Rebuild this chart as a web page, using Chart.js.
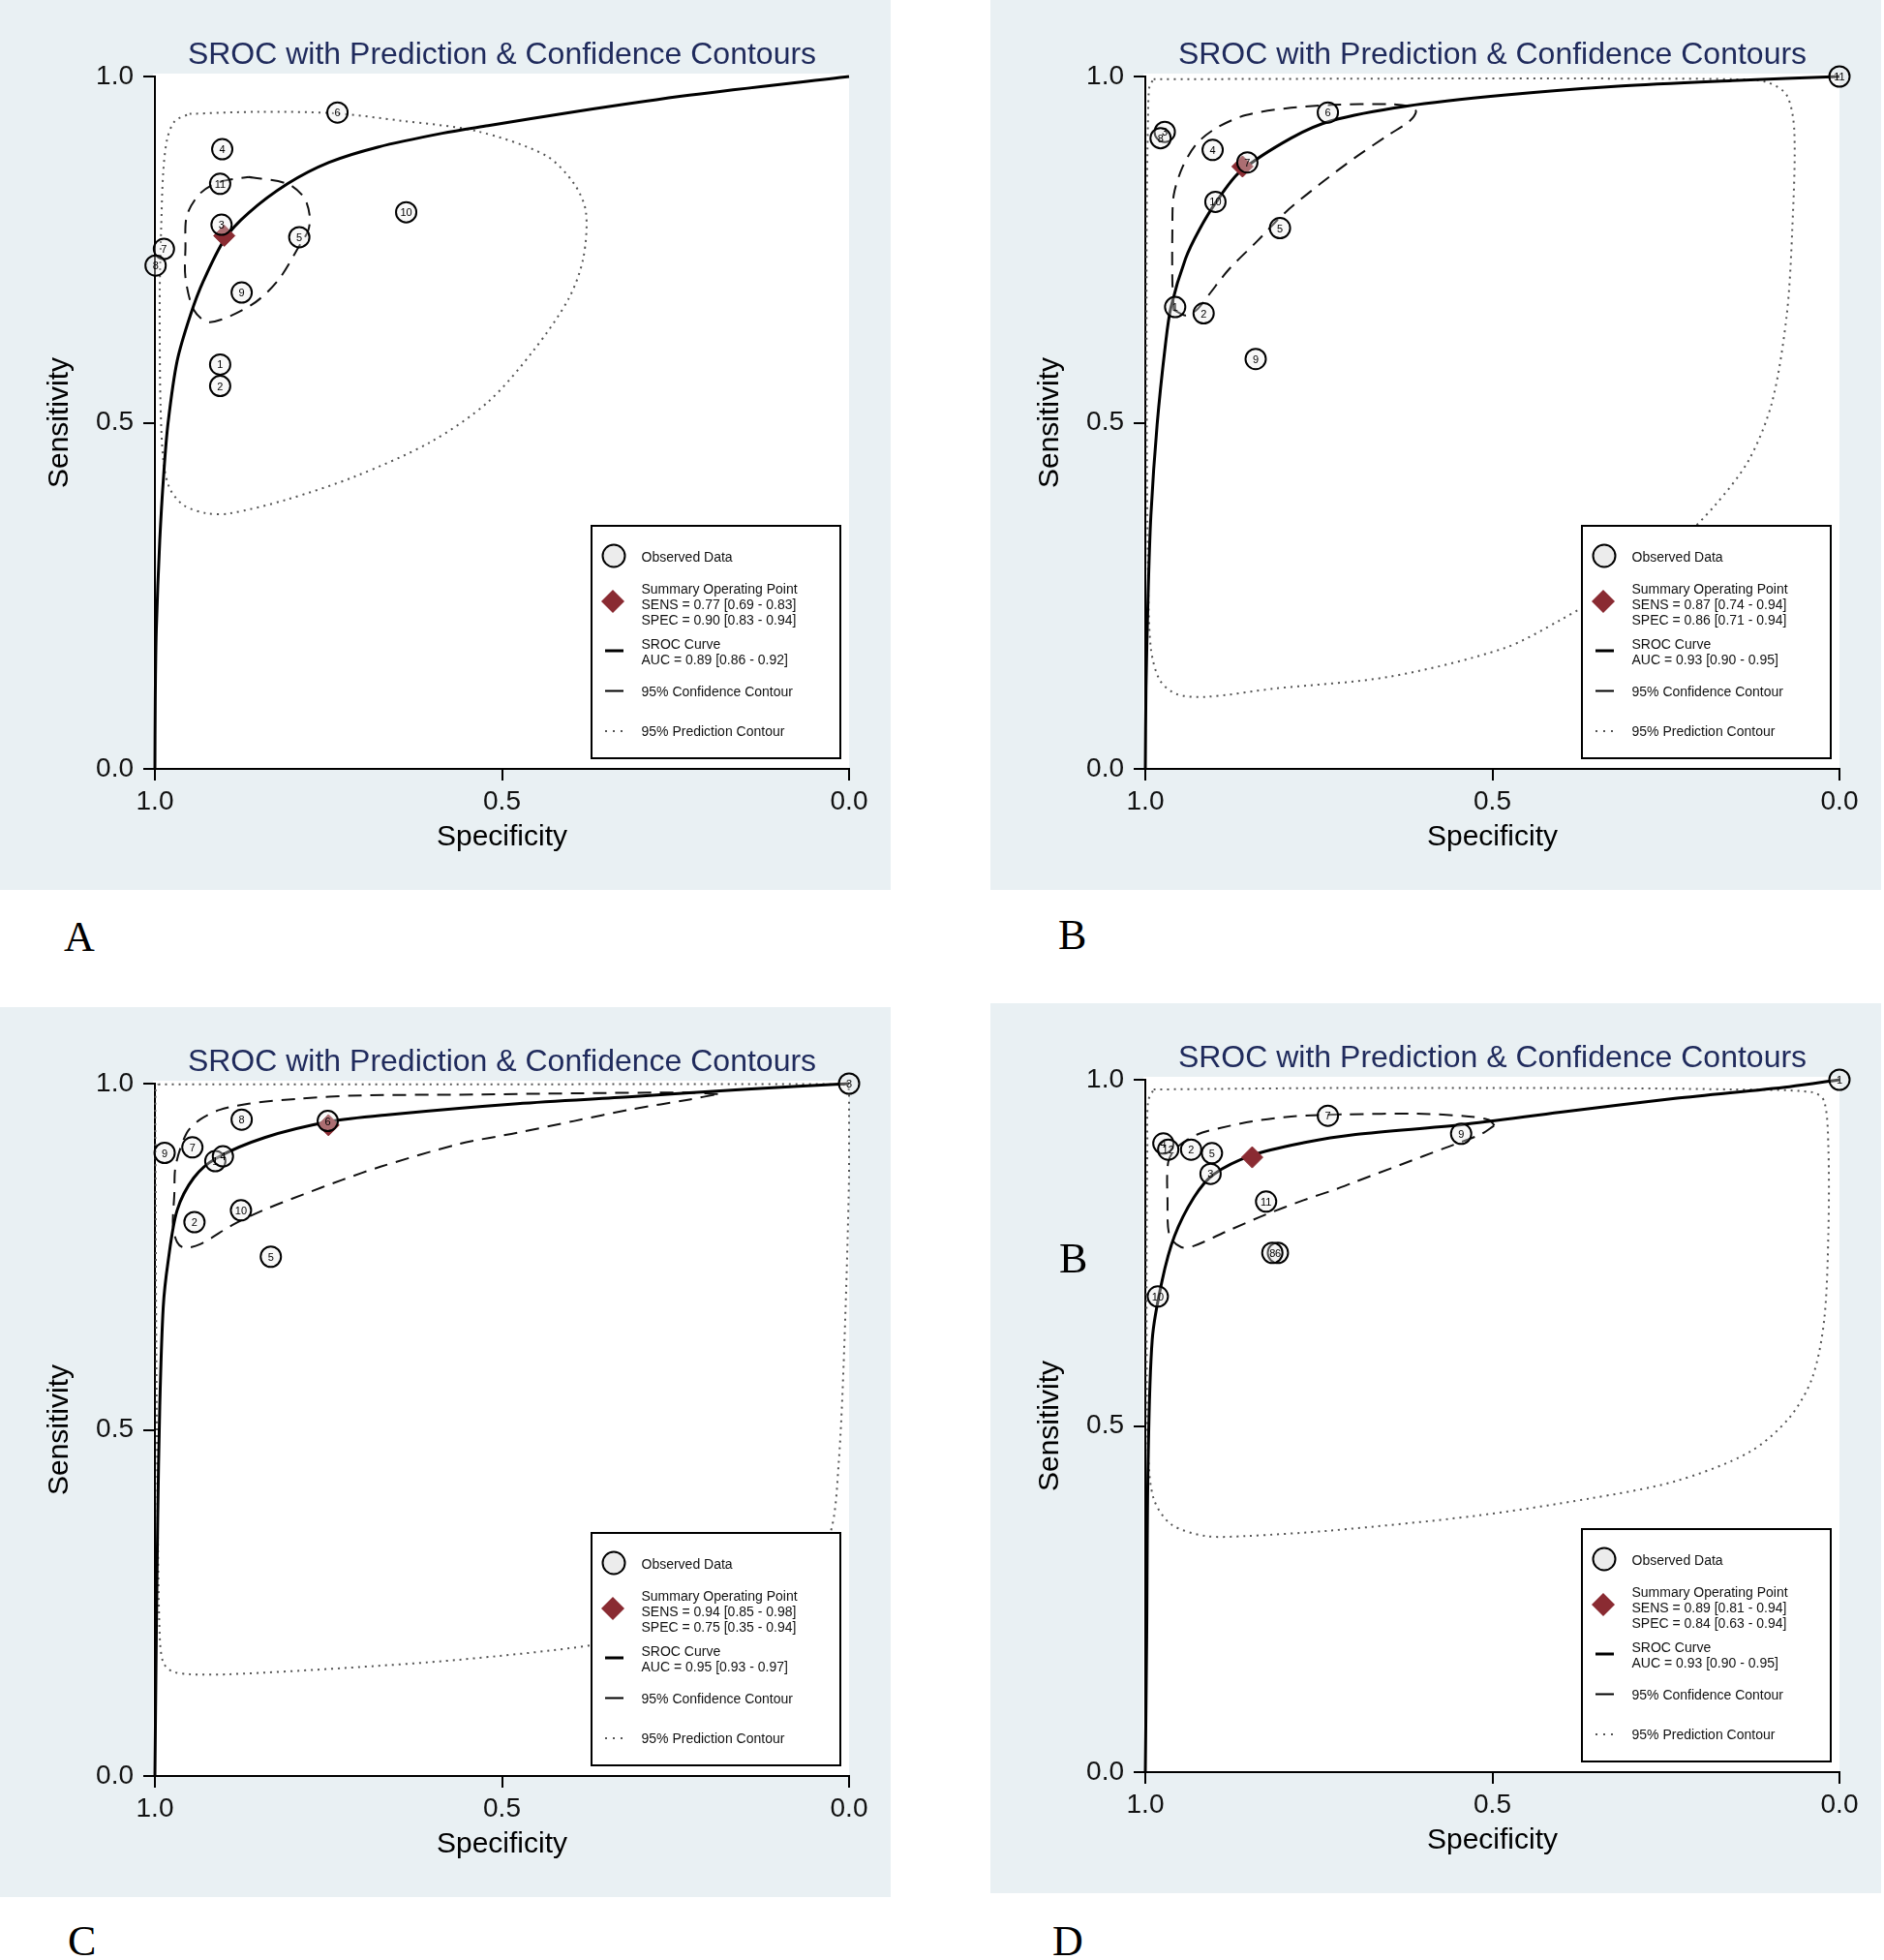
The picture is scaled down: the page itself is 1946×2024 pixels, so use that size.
<!DOCTYPE html>
<html>
<head>
<meta charset="utf-8">
<script src="https://cdn.jsdelivr.net/npm/chart.js@4.4.0/dist/chart.umd.min.js"></script>
<style>
  html, body { margin: 0; padding: 0; background: #fff; }
  body { position: relative; width: 1946px; height: 2024px; overflow: hidden; }
  canvas { position: absolute; }
  .tag { position: absolute; font-family: 'Liberation Serif', 'Times New Roman', serif; font-size: 44px; line-height: 44px; color: #000; }
</style>
</head>
<body>
<canvas id="panelA" width="920" height="919" style="left:0px;top:0px"></canvas>
<canvas id="panelB" width="920" height="919" style="left:1023px;top:0px"></canvas>
<canvas id="panelC" width="920" height="919" style="left:0px;top:1040px"></canvas>
<canvas id="panelD" width="920" height="919" style="left:1023px;top:1036px"></canvas>
<div class="tag" style="left:66px;top:946px">A</div>
<div class="tag" style="left:1093px;top:944px">B</div>
<div class="tag" style="left:70px;top:1983px">C</div>
<div class="tag" style="left:1087px;top:1983px">D</div>
<div class="tag" style="left:1094px;top:1278px">B</div>
<script>
const FONT = "'Liberation Sans', Arial, Helvetica, sans-serif";
const chartTitle = 'SROC with Prediction & Confidence Contours';
const tickValues = [0, 0.5, 1];
const tickLabels = ['0.0', '0.5', '1.0'];
const legendLabels = ['Observed Data', 'Summary Operating Point', 'SROC Curve', '95% Confidence Contour', '95% Prediction Contour'];

// points are [specificity, sensitivity]

// panel A
const obsLabelsA = ['1', '2', '3', '4', '5', '6', '7', '8', '9', '10', '11'];
const obsA = [[0.906, 0.584], [0.906, 0.553], [0.904, 0.786], [0.903, 0.895], [0.792, 0.768], [0.737, 0.948],
  [0.987, 0.751], [0.999, 0.727], [0.875, 0.688], [0.638, 0.804], [0.906, 0.845]];
const summaryA = [0.90, 0.77];
const statsA = ['SENS = 0.77 [0.69 - 0.83]', 'SPEC = 0.90 [0.83 - 0.94]', 'AUC = 0.89 [0.86 - 0.92]'];
const srocA = [[1.0, 0.0], [0.9995, 0.1], [0.998, 0.2], [0.993, 0.33], [0.987, 0.43], [0.981, 0.5], [0.968, 0.589],
  [0.949, 0.655], [0.930, 0.705], [0.899, 0.766], [0.865, 0.803], [0.809, 0.845], [0.749, 0.876], [0.679, 0.898],
  [0.586, 0.918], [0.520, 0.929], [0.396, 0.949], [0.230, 0.973], [0.0, 1.0]];
const confA = [[0.865, 0.855], [0.809, 0.845], [0.785, 0.825], [0.777, 0.799], [0.779, 0.778], [0.791, 0.757],
  [0.823, 0.705], [0.861, 0.670], [0.921, 0.645], [0.944, 0.663], [0.956, 0.71], [0.956, 0.752], [0.954, 0.799],
  [0.935, 0.831], [0.909, 0.847], [0.865, 0.855]];
const predA = [[0.950, 0.946], [0.851, 0.949], [0.743, 0.947], [0.644, 0.936], [0.536, 0.921], [0.437, 0.886],
  [0.396, 0.845], [0.379, 0.804], [0.383, 0.737], [0.404, 0.679], [0.454, 0.605], [0.520, 0.530], [0.603, 0.472],
  [0.710, 0.423], [0.810, 0.389], [0.892, 0.369], [0.925, 0.369], [0.959, 0.381], [0.979, 0.406], [0.988, 0.447],
  [0.992, 0.530], [0.993, 0.613], [0.993, 0.696], [0.991, 0.779], [0.988, 0.862], [0.982, 0.911], [0.971, 0.936],
  [0.950, 0.946]];

// panel B
const obsLabelsB = ['1', '2', '3', '4', '5', '6', '7', '8', '9', '10', '11'];
const obsB = [[0.957, 0.667], [0.916, 0.658], [0.972, 0.920], [0.903, 0.894], [0.806, 0.781], [0.737, 0.948],
  [0.853, 0.876], [0.978, 0.911], [0.841, 0.592], [0.899, 0.819], [0.0, 1.0]];
const summaryB = [0.86, 0.87];
const statsB = ['SENS = 0.87 [0.74 - 0.94]', 'SPEC = 0.86 [0.71 - 0.94]', 'AUC = 0.93 [0.90 - 0.95]'];
const srocB = [[1.0, 0.0], [0.999, 0.116], [0.996, 0.25], [0.992, 0.365], [0.983, 0.497], [0.971, 0.613],
  [0.963, 0.667], [0.942, 0.737], [0.922, 0.779], [0.897, 0.820], [0.864, 0.862], [0.790, 0.911], [0.732, 0.936],
  [0.625, 0.957], [0.484, 0.973], [0.319, 0.986], [0.154, 0.994], [0.0, 1.0]];
const confB = [[0.959, 0.663], [0.961, 0.704], [0.961, 0.779], [0.959, 0.829], [0.946, 0.870], [0.926, 0.903],
  [0.897, 0.926], [0.856, 0.944], [0.798, 0.954], [0.732, 0.959], [0.649, 0.960], [0.616, 0.956], [0.610, 0.949],
  [0.620, 0.935], [0.649, 0.916], [0.699, 0.882], [0.748, 0.845], [0.798, 0.804], [0.839, 0.762], [0.880, 0.721],
  [0.909, 0.684], [0.926, 0.663], [0.942, 0.655], [0.959, 0.663]];
const predB = [[0.988, 0.996], [0.649, 0.997], [0.319, 0.997], [0.154, 0.996], [0.105, 0.992], [0.076, 0.973],
  [0.065, 0.920], [0.068, 0.779], [0.076, 0.655], [0.097, 0.530], [0.130, 0.447], [0.179, 0.381], [0.237, 0.323],
  [0.319, 0.265], [0.402, 0.215], [0.484, 0.174], [0.649, 0.133], [0.814, 0.116], [0.913, 0.104], [0.955, 0.108],
  [0.979, 0.128], [0.992, 0.174], [0.996, 0.282], [0.998, 0.530], [0.998, 0.779], [0.996, 0.944], [0.994, 0.986],
  [0.988, 0.996]];

// panel C
const obsLabelsC = ['1', '2', '3', '4', '5', '6', '7', '8', '9', '10'];
const obsC = [[0.913, 0.888], [0.943, 0.800], [0.0, 1.0], [0.902, 0.895], [0.833, 0.750], [0.751, 0.946],
  [0.946, 0.908], [0.875, 0.948], [0.986, 0.900], [0.876, 0.817]];
const summaryC = [0.75, 0.94];
const statsC = ['SENS = 0.94 [0.85 - 0.98]', 'SPEC = 0.75 [0.35 - 0.94]', 'AUC = 0.95 [0.93 - 0.97]'];
const srocC = [[1.0, 0.0], [0.998, 0.201], [0.996, 0.368], [0.993, 0.534], [0.988, 0.677], [0.981, 0.743],
  [0.968, 0.817], [0.944, 0.864], [0.912, 0.892], [0.842, 0.922], [0.749, 0.945], [0.665, 0.955], [0.478, 0.971],
  [0.313, 0.981], [0.147, 0.992], [0.0, 1.0]];
const confC = [[0.189, 0.985], [0.230, 0.987], [0.396, 0.986], [0.561, 0.984], [0.703, 0.983], [0.795, 0.978],
  [0.865, 0.971], [0.907, 0.962], [0.935, 0.948], [0.954, 0.929], [0.970, 0.882], [0.972, 0.840], [0.974, 0.794],
  [0.968, 0.771], [0.958, 0.763], [0.935, 0.768], [0.888, 0.796], [0.842, 0.818], [0.786, 0.840], [0.730, 0.861],
  [0.675, 0.880], [0.561, 0.913], [0.478, 0.929], [0.396, 0.946], [0.313, 0.963], [0.230, 0.977], [0.189, 0.985]];
const predC = [[0.995, 0.999], [0.5, 0.999], [0.01, 0.999], [0.0, 0.99], [0.0, 0.867], [0.007, 0.617],
  [0.015, 0.451], [0.027, 0.351], [0.065, 0.285], [0.230, 0.218], [0.371, 0.189], [0.561, 0.168], [0.727, 0.156],
  [0.892, 0.147], [0.950, 0.147], [0.975, 0.151], [0.988, 0.164], [0.993, 0.201], [0.996, 0.368], [0.998, 0.617],
  [0.999, 0.867], [0.999, 0.99], [0.995, 0.999]];

// panel D
const obsLabelsD = ['1', '2', '3', '4', '5', '6', '7', '8', '9', '10', '11', '12'];
const obsD = [[0.0, 1.0], [0.934, 0.899], [0.906, 0.864], [0.974, 0.908], [0.904, 0.894], [0.809, 0.750],
  [0.737, 0.948], [0.817, 0.750], [0.545, 0.922], [0.982, 0.687], [0.826, 0.824], [0.967, 0.899]];
const summaryD = [0.846, 0.888];
const statsD = ['SENS = 0.89 [0.81 - 0.94]', 'SPEC = 0.84 [0.63 - 0.94]', 'AUC = 0.93 [0.90 - 0.95]'];
const srocD = [[1.0, 0.0], [0.998, 0.196], [0.996, 0.445], [0.990, 0.625], [0.976, 0.709], [0.958, 0.774],
  [0.930, 0.830], [0.902, 0.863], [0.846, 0.891], [0.772, 0.909], [0.697, 0.921], [0.545, 0.935], [0.402, 0.953],
  [0.237, 0.973], [0.072, 0.990], [0.0, 1.0]];
const confD = [[0.497, 0.934], [0.505, 0.942], [0.534, 0.947], [0.608, 0.951], [0.711, 0.950], [0.749, 0.949],
  [0.790, 0.947], [0.846, 0.940], [0.893, 0.930], [0.925, 0.921], [0.955, 0.902], [0.967, 0.881], [0.968, 0.826],
  [0.965, 0.774], [0.948, 0.758], [0.930, 0.760], [0.883, 0.781], [0.827, 0.805], [0.772, 0.826], [0.725, 0.842],
  [0.699, 0.852], [0.633, 0.877], [0.567, 0.902], [0.517, 0.921], [0.497, 0.934]];
const predD = [[0.988, 0.986], [0.732, 0.988], [0.402, 0.988], [0.154, 0.986], [0.039, 0.982], [0.022, 0.969],
  [0.016, 0.903], [0.016, 0.778], [0.022, 0.653], [0.039, 0.570], [0.072, 0.512], [0.130, 0.462], [0.237, 0.420],
  [0.361, 0.395], [0.526, 0.370], [0.732, 0.349], [0.856, 0.341], [0.913, 0.341], [0.963, 0.358], [0.988, 0.395],
  [0.996, 0.462], [0.998, 0.611], [0.998, 0.778], [0.997, 0.903], [0.996, 0.969], [0.988, 0.986]];

const PANEL_BG = '#e9f0f3';
const NAVY = '#1f2a5c';
const MAROON = '#8a2b32';

Chart.defaults.font.family = FONT;

const toXY = arr => arr.map(p => ({ x: p[0], y: p[1] }));

const panelBg = {
  id: 'panelBg',
  beforeDraw(chart) {
    const { ctx, chartArea: a, width, height } = chart;
    ctx.save();
    ctx.fillStyle = PANEL_BG;
    ctx.fillRect(0, 0, width, height);
    ctx.fillStyle = '#fff';
    ctx.fillRect(a.left - 2, a.top - 3, a.right - a.left + 2, a.bottom - a.top + 3);
    ctx.font = '32px ' + FONT;
    ctx.fillStyle = NAVY;
    ctx.textAlign = 'center';
    ctx.textBaseline = 'alphabetic';
    ctx.fillText(chartTitle, (a.left + a.right) / 2, 66);
    ctx.restore();
  }
};

const pointTags = {
  id: 'pointTags',
  afterDatasetsDraw(chart) {
    const ctx = chart.ctx;
    chart.data.datasets.forEach((ds, i) => {
      if (!ds.tags) return;
      const meta = chart.getDatasetMeta(i);
      ctx.save();
      ctx.font = '11px ' + FONT;
      ctx.fillStyle = '#000';
      ctx.textAlign = 'center';
      ctx.textBaseline = 'middle';
      meta.data.forEach((el, j) => ctx.fillText(ds.tags[j], el.x, el.y + 1));
      ctx.restore();
    });
  }
};

const srocLegend = {
  id: 'srocLegend',
  afterDatasetsDraw(chart, args, opts) {
    const { ctx, chartArea: a } = chart;
    const w = 257, h = 240;
    const L = a.right - 9 - w, T = a.bottom - 11 - h;
    const tx = L + 51.5;
    ctx.save();
    ctx.fillStyle = '#fff';
    ctx.fillRect(L, T, w, h);
    ctx.lineWidth = 2;
    ctx.strokeStyle = '#000';
    ctx.strokeRect(L, T, w, h);

    // observed marker
    ctx.beginPath();
    ctx.arc(L + 23, T + 31, 11.5, 0, Math.PI * 2);
    ctx.fillStyle = '#ececec';
    ctx.fill();
    ctx.lineWidth = 2;
    ctx.stroke();
    // summary marker
    ctx.beginPath();
    ctx.moveTo(L + 22, T + 66);
    ctx.lineTo(L + 34, T + 78);
    ctx.lineTo(L + 22, T + 90);
    ctx.lineTo(L + 10, T + 78);
    ctx.closePath();
    ctx.fillStyle = MAROON;
    ctx.fill();
    // sroc marker
    ctx.beginPath();
    ctx.lineWidth = 3;
    ctx.moveTo(L + 14, T + 129);
    ctx.lineTo(L + 33, T + 129);
    ctx.stroke();
    // confidence marker
    ctx.beginPath();
    ctx.lineWidth = 2;
    ctx.moveTo(L + 14, T + 170.5);
    ctx.lineTo(L + 33, T + 170.5);
    ctx.stroke();
    // prediction marker
    ctx.fillStyle = '#555';
    [L + 14, L + 22, L + 30].forEach(x => ctx.fillRect(x, T + 211, 2, 2));

    ctx.fillStyle = '#111';
    ctx.font = '14px ' + FONT;
    ctx.textAlign = 'left';
    ctx.textBaseline = 'alphabetic';
    ctx.fillText(legendLabels[0], tx, T + 37);
    ctx.fillText(legendLabels[1], tx, T + 69.7);
    ctx.fillText(opts.stats[0], tx, T + 85.7);
    ctx.fillText(opts.stats[1], tx, T + 101.7);
    ctx.fillText(legendLabels[2], tx, T + 127);
    ctx.fillText(opts.stats[2], tx, T + 143);
    ctx.fillText(legendLabels[3], tx, T + 176);
    ctx.fillText(legendLabels[4], tx, T + 217);
    ctx.restore();
  }
};

function axisOptions(titleText, isX) {
  return {
    type: 'linear',
    min: 0,
    max: 1,
    reverse: isX,
    afterBuildTicks: s => { s.ticks = tickValues.map(v => ({ value: v })); },
    afterFit: s => { if (isX) s.height = 125; else s.width = 160; },
    ticks: {
      callback: v => tickLabels[tickValues.indexOf(v)],
      font: { size: 28 },
      color: '#111',
      padding: isX ? 5 : 10,
      maxRotation: 0,
      autoSkip: false
    },
    grid: { display: true, drawOnChartArea: false, drawTicks: true, tickLength: 12, color: '#000', lineWidth: 2 },
    border: { display: true, color: '#000', width: 2 },
    title: {
      display: true,
      text: titleText,
      font: { size: 30 },
      color: '#000',
      padding: isX ? { top: 0, bottom: 36 } : { top: 43.5, bottom: 0 }
    }
  };
}

function makePanel(id, obs, tags, summary, sroc, conf, pred, stats) {
  new Chart(document.getElementById(id).getContext('2d'), {
    type: 'scatter',
    data: {
      datasets: [
        {
          label: legendLabels[0], data: toXY(obs), tags: tags, order: 0, clip: false,
          pointRadius: 10.5, pointHoverRadius: 10.5, pointBorderWidth: 2,
          pointBorderColor: '#000', pointBackgroundColor: 'rgba(236,236,236,0.35)'
        },
        {
          label: legendLabels[1], data: toXY([summary]), order: 1, clip: false,
          pointStyle: 'rectRot', pointRadius: 11, pointHoverRadius: 11,
          pointBackgroundColor: MAROON, pointBorderColor: MAROON, pointBorderWidth: 1
        },
        {
          label: legendLabels[2], data: toXY(sroc), order: 2, clip: false, showLine: true,
          borderColor: '#000', borderWidth: 3, pointRadius: 0, tension: 0.3
        },
        {
          label: legendLabels[3], data: toXY(conf), order: 3, clip: false, showLine: true,
          borderColor: '#111', borderWidth: 2, borderDash: [14, 9], pointRadius: 0, tension: 0.3
        },
        {
          label: legendLabels[4], data: toXY(pred), order: 4, clip: false, showLine: true,
          borderColor: '#555', borderWidth: 2, borderDash: [2, 5], pointRadius: 0, tension: 0.3
        }
      ]
    },
    options: {
      responsive: false,
      animation: false,
      devicePixelRatio: 1,
      layout: { padding: { top: 79, right: 43, bottom: 0, left: 0 } },
      plugins: {
        legend: { display: false },
        tooltip: { enabled: false },
        srocLegend: { stats: stats }
      },
      scales: {
        x: axisOptions('Specificity', true),
        y: axisOptions('Sensitivity', false)
      }
    },
    plugins: [panelBg, pointTags, srocLegend]
  });
}

makePanel('panelA', obsA, obsLabelsA, summaryA, srocA, confA, predA, statsA);
makePanel('panelB', obsB, obsLabelsB, summaryB, srocB, confB, predB, statsB);
makePanel('panelC', obsC, obsLabelsC, summaryC, srocC, confC, predC, statsC);
makePanel('panelD', obsD, obsLabelsD, summaryD, srocD, confD, predD, statsD);
</script>
</body>
</html>
